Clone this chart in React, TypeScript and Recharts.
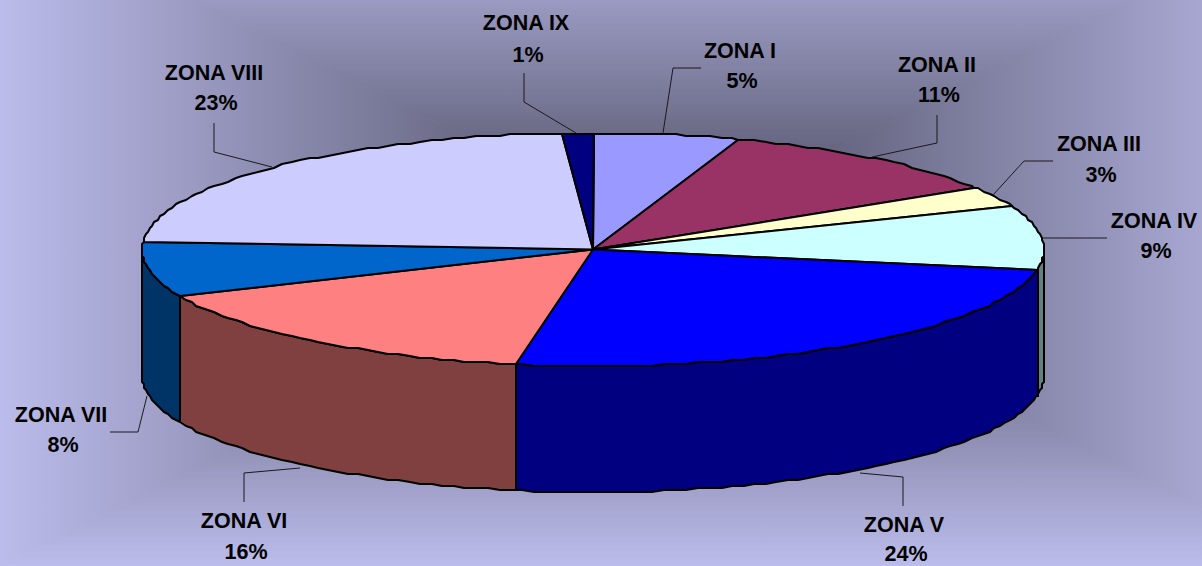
import { PieChart, Pie } from 'recharts';

const zoneNames = ['ZONA I', 'ZONA II', 'ZONA III', 'ZONA IV', 'ZONA V', 'ZONA VI', 'ZONA VII', 'ZONA VIII', 'ZONA IX'];
const percentLabels = ['5%', '11%', '3%', '9%', '24%', '16%', '8%', '23%', '1%'];
// slice shares as drawn in the picture (the printed labels are rounded)
const sliceShares = [5.2, 10.8, 3.0, 8.7, 25.0, 15.7, 7.6, 22.8, 1.1];
const topColors = ['#9999ff', '#993366', '#ffffcc', '#ccffff', '#0000ff', '#ff8080', '#0066cc', '#ccccff', '#000080'];
const wallColors = ['#4d4d80', '#4d1933', '#808066', '#668080', '#000080', '#804040', '#003366', '#666680', '#000040'];

const topData = zoneNames.map((name, i) => ({ name, value: sliceShares[i], fill: topColors[i] }));
const wallData = zoneNames.map((name, i) => ({ name, value: sliceShares[i], fill: wallColors[i] }));

const WIDTH = 1202;
const HEIGHT = 566;
const CX = 593;
const CY = 249.5;
const RX = 451;
const RY = 116.5;
const DEPTH = 126;

// text centre, two baselines, leader polyline
const labelLayout = [
  { x: 740, y1: 58, y2: 88, line: '663,133 673,68 701,68' },
  { x: 937, y1: 72, y2: 102, line: '872,157 937,143 937,115' },
  { x: 1099, y1: 151, y2: 182, line: '993,195 1024,161 1053,161' },
  { x: 1154, y1: 228, y2: 258, line: '1043,238 1107,238' },
  { x: 904, y1: 532, y2: 561, line: '860,473 903,477 903,506' },
  { x: 244, y1: 528, y2: 559, line: '300,468 244,473 244,502' },
  { x: 61, y1: 422, y2: 452, line: '147,396 138,432 110,432' },
  { x: 214, y1: 80, y2: 110, line: '272,167 214,152 214,123' },
  { x: 526, y1: 30, y2: 62, line: '576,133 524,102 524,73' },
];

// the source outline is coarse and slightly bumpy
function snap(v: number) {
  return Math.round(v / 2) * 2;
}

function arcPoints(from: number, to: number, cy: number) {
  const step = 1.5;
  const angles = [from];
  const lo = Math.min(from, to);
  const hi = Math.max(from, to);
  const inner = [];
  for (let a = Math.ceil(lo / step) * step; a < hi; a += step) {
    if (a > lo) inner.push(a);
  }
  if (from > to) inner.reverse();
  angles.push(...inner, to);
  return angles.map((a) => {
    const rad = (a * Math.PI) / 180;
    return `${snap(CX + RX * Math.cos(rad))},${snap(cy - RY * Math.sin(rad))}`;
  });
}

// eslint-disable-next-line @typescript-eslint/no-explicit-any
function TopSlice(props: any) {
  const pts = arcPoints(props.startAngle, props.endAngle, CY);
  return (
    <path
      d={`M${CX},${CY} L${pts.join(' L')} Z`}
      fill={props.fill}
      stroke="#000"
      strokeWidth={2}
      strokeLinejoin="round"
    />
  );
}

// eslint-disable-next-line @typescript-eslint/no-explicit-any
function WallSlice(props: any) {
  // only the front half of the rim is visible
  const a1 = Math.min(props.startAngle, 0);
  const a2 = Math.max(props.endAngle, -180);
  if (a1 <= a2) return null;
  const top = arcPoints(a1, a2, CY);
  const bottom = arcPoints(a2, a1, CY + DEPTH);
  return (
    <path
      d={`M${top.join(' L')} L${bottom.join(' L')} Z`}
      fill={props.fill}
      stroke="#000"
      strokeWidth={2}
      strokeLinejoin="round"
    />
  );
}

// eslint-disable-next-line @typescript-eslint/no-explicit-any
function ZoneLabel(props: any) {
  const i = props.index;
  const l = labelLayout[i];
  return (
    <g>
      <polyline points={l.line} fill="none" stroke="#1a1a1a" strokeWidth={1} />
      <text x={l.x} y={l.y1} textAnchor="middle" fontFamily="Liberation Sans" fontWeight="bold" fontSize={21.5} fill="#000">
        {zoneNames[i]}
      </text>
      <text x={l.x + 2} y={l.y2} textAnchor="middle" fontFamily="Liberation Sans" fontWeight="bold" fontSize={21.5} fill="#000">
        {percentLabels[i]}
      </text>
    </g>
  );
}

// rectangular path gradient, its box runs past the top and right of the picture
function Background() {
  const L = 0, T = -96, R = 1324, B = 566, MX = 662, MY = 235;
  const edge = '#bcbcec';
  const mid = '#48485c';
  const grads = [
    { id: 'bgL', x1: L, y1: 0, x2: MX, y2: 0, pts: `${L},${T} ${MX},${MY} ${L},${B}` },
    { id: 'bgR', x1: R, y1: 0, x2: MX, y2: 0, pts: `${R},${T} ${MX},${MY} ${R},${B}` },
    { id: 'bgT', x1: 0, y1: T, x2: 0, y2: MY, pts: `${L},${T} ${MX},${MY} ${R},${T}` },
    { id: 'bgB', x1: 0, y1: B, x2: 0, y2: MY, pts: `${L},${B} ${MX},${MY} ${R},${B}` },
  ];
  return (
    <svg width={WIDTH} height={HEIGHT} style={{ position: 'absolute', left: 0, top: 0 }}>
      <defs>
        {grads.map((g) => (
          <linearGradient key={g.id} id={g.id} gradientUnits="userSpaceOnUse" x1={g.x1} y1={g.y1} x2={g.x2} y2={g.y2}>
            <stop offset="0" stopColor={edge} />
            <stop offset="1" stopColor={mid} />
          </linearGradient>
        ))}
      </defs>
      {grads.map((g) => (
        <polygon key={g.id} points={g.pts} fill={`url(#${g.id})`} stroke={`url(#${g.id})`} strokeWidth={1} />
      ))}
    </svg>
  );
}

export default function App() {
  return (
    <div style={{ position: 'absolute', left: 0, top: 0, width: WIDTH, height: HEIGHT, overflow: 'hidden' }}>
      <Background />
      <div style={{ position: 'absolute', left: 0, top: 0 }}>
        <PieChart width={WIDTH} height={HEIGHT} margin={{ top: 0, right: 0, bottom: 0, left: 0 }}>
          <Pie
            data={wallData}
            dataKey="value"
            cx={CX}
            cy={CY}
            outerRadius={RX}
            startAngle={90}
            endAngle={-270}
            stroke="none"
            shape={WallSlice}
            isAnimationActive={false}
          />
          <Pie
            data={topData}
            dataKey="value"
            cx={CX}
            cy={CY}
            outerRadius={RX}
            startAngle={90}
            endAngle={-270}
            stroke="none"
            shape={TopSlice}
            label={ZoneLabel}
            labelLine={false}
            isAnimationActive={false}
          />
        </PieChart>
      </div>
    </div>
  );
}
